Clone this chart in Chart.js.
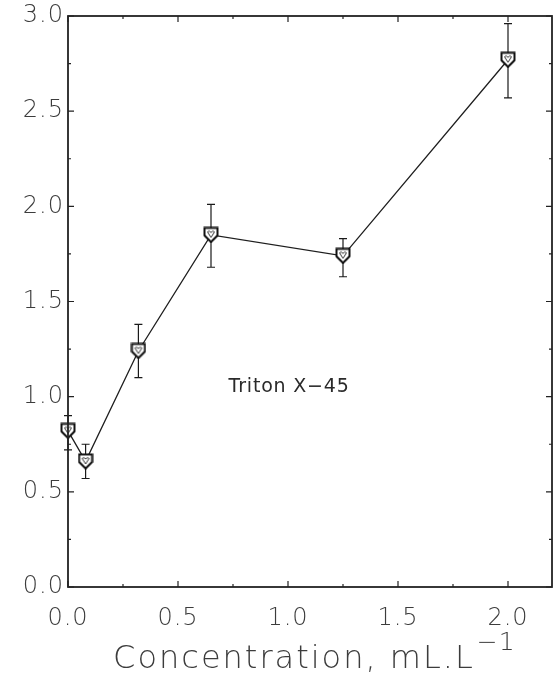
<!DOCTYPE html>
<html>
<head>
<meta charset="utf-8">
<script src="https://cdn.jsdelivr.net/npm/chart.js@4.4.1/dist/chart.umd.min.js"></script>
<style>
  html, body { margin: 0; padding: 0; background: #fff; }
  #wrap { width: 556px; height: 680px; }
</style>
</head>
<body>
<div id="wrap"><canvas id="grafica"></canvas></div>
<script>
// datos
const concentracion = [0, 0.08, 0.32, 0.65, 1.25, 2.0];
const valores = [0.82, 0.66, 1.24, 1.85, 1.74, 2.77];
const errInf = [0.72, 0.57, 1.10, 1.68, 1.63, 2.57];
const errSup = [0.90, 0.75, 1.38, 2.01, 1.83, 2.96];
const ticksX = [0, 0.5, 1.0, 1.5, 2.0];
const ticksY = [0, 0.5, 1.0, 1.5, 2.0, 2.5, 3.0];
const nota = 'Triton X\u221245';
const tituloX = 'Concentration, mL.L';
const supX = '\u22121';

const colorTexto = '#3c3c3c';

// marcador tipo escudo
const hacerMarcador = () => {
    const c = document.createElement('canvas');
    c.width = 16;
    c.height = 17;
    const g = c.getContext('2d');
    g.fillStyle = '#fff';
    g.strokeStyle = '#111';
    g.lineWidth = 2;
    g.beginPath();
    g.moveTo(1.5, 1.5);
    g.lineTo(14.5, 1.5);
    g.lineTo(14.5, 9);
    g.lineTo(8, 15.5);
    g.lineTo(1.5, 9);
    g.closePath();
    g.fill();
    g.stroke();
    g.lineWidth = 1;
    g.strokeStyle = '#333';
    g.beginPath();
    g.moveTo(4.5, 5.5);
    g.quadraticCurveTo(6, 3.5, 8, 6);
    g.quadraticCurveTo(10, 3.5, 11.5, 5.5);
    g.lineTo(8, 11);
    g.closePath();
    g.stroke();
    return c;
};

// marco, ticks interiores, barras de error, textos
const extras = {
    id: 'extras',
    beforeDraw(chart) {
        chart.ctx.letterSpacing = '1px'; //para que los numeros queden mas anchos
    },
    beforeDatasetsDraw(chart) {
        const ctx = chart.ctx;
        const x = chart.scales.x, y = chart.scales.y;
        ctx.save();
        ctx.strokeStyle = '#1a1a1a';
        ctx.lineWidth = 1.2;
        concentracion.forEach((c, i) => {
            const px = x.getPixelForValue(c);
            const p1 = y.getPixelForValue(errInf[i]);
            const p2 = y.getPixelForValue(errSup[i]);
            ctx.beginPath();
            ctx.moveTo(px, p1); ctx.lineTo(px, p2);
            ctx.moveTo(px - 4, p1); ctx.lineTo(px + 4, p1);
            ctx.moveTo(px - 4, p2); ctx.lineTo(px + 4, p2);
            ctx.stroke();
        });
        ctx.restore();
    },
    afterDraw(chart) {
        const ctx = chart.ctx;
        const a = chart.chartArea;
        const x = chart.scales.x, y = chart.scales.y;
        ctx.save();
        ctx.strokeStyle = '#222';
        ctx.lineWidth = 1.8;
        ctx.strokeRect(a.left, a.top, a.right - a.left, a.bottom - a.top);

        ctx.lineWidth = 1.2;
        ctx.beginPath();
        for (let v = 0; v <= 2.2001; v += 0.25) {
            const px = x.getPixelForValue(v);
            const len = (Math.abs(v * 2 - Math.round(v * 2)) < 0.001) ? 6 : 3;
            ctx.moveTo(px, a.bottom); ctx.lineTo(px, a.bottom - len);
            ctx.moveTo(px, a.top); ctx.lineTo(px, a.top + len);
        }
        for (let v = 0; v <= 3.0001; v += 0.25) {
            const py = y.getPixelForValue(v);
            const len = (Math.abs(v * 2 - Math.round(v * 2)) < 0.001) ? 6 : 3;
            ctx.moveTo(a.left, py); ctx.lineTo(a.left + len, py);
            ctx.moveTo(a.right, py); ctx.lineTo(a.right - len, py);
        }
        ctx.stroke();

        // nota dentro del grafico
        ctx.letterSpacing = '0.8px';
        ctx.fillStyle = '#2a2a2a';
        ctx.font = '19px "DejaVu Sans", sans-serif';
        ctx.textAlign = 'left';
        ctx.textBaseline = 'alphabetic';
        ctx.fillText(nota, x.getPixelForValue(0.73), y.getPixelForValue(1.026));

        // titulo eje x con superindice
        ctx.letterSpacing = '2px';
        ctx.fillStyle = colorTexto;
        ctx.font = '300 32px "DejaVu Sans", sans-serif';
        const w1 = ctx.measureText(tituloX).width;
        const inicio = x.getPixelForValue(0.205);
        ctx.fillText(tituloX, inicio, 668);
        ctx.letterSpacing = '1px';
        ctx.font = '300 25px "DejaVu Sans", sans-serif';
        ctx.fillText(supX, inicio + w1 + 2, 650);
        ctx.restore();
    }
};

let ctx1 = document.getElementById('grafica').getContext('2d');
let chart1 = new Chart(ctx1, {
    type: 'scatter',
    data: {
        datasets: [{
            data: concentracion.map((c, i) => ({ x: c, y: valores[i] })),
            showLine: true,
            borderColor: '#1e1e1e',
            borderWidth: 1.3,
            pointStyle: hacerMarcador(),
            pointRadius: 8,
            clip: false
        }]
    },
    options: {
        responsive: true,
        maintainAspectRatio: false,
        animation: false,
        events: [],
        layout: { autoPadding: false, padding: { top: 16, right: 4, left: 0, bottom: 0 } },
        plugins: {
            legend: { display: false },
            tooltip: { enabled: false }
        },
        scales: {
            x: {
                type: 'linear',
                min: 0,
                max: 2.2,
                grid: { display: false, drawTicks: false, tickLength: 0 },
                border: { display: false },
                afterBuildTicks: (s) => { s.ticks = ticksX.map(v => ({ value: v })); },
                afterFit: (s) => { s.height = 93; s.paddingLeft = 0; s.paddingRight = 0; },
                ticks: {
                    padding: 17,
                    maxRotation: 0,
                    color: colorTexto,
                    font: { family: '"DejaVu Sans", sans-serif', size: 24, weight: 300 },
                    callback: (v) => v.toFixed(1)
                }
            },
            y: {
                min: 0,
                max: 3,
                grid: { display: false, drawTicks: false, tickLength: 0 },
                border: { display: false },
                afterBuildTicks: (s) => { s.ticks = ticksY.map(v => ({ value: v })); },
                afterFit: (s) => { s.width = 68; s.paddingTop = 0; s.paddingBottom = 0; },
                ticks: {
                    padding: 4,
                    color: colorTexto,
                    font: { family: '"DejaVu Sans", sans-serif', size: 24, weight: 300 },
                    callback: (v) => v.toFixed(1)
                }
            }
        }
    },
    plugins: [extras]
});
</script>
</body>
</html>
